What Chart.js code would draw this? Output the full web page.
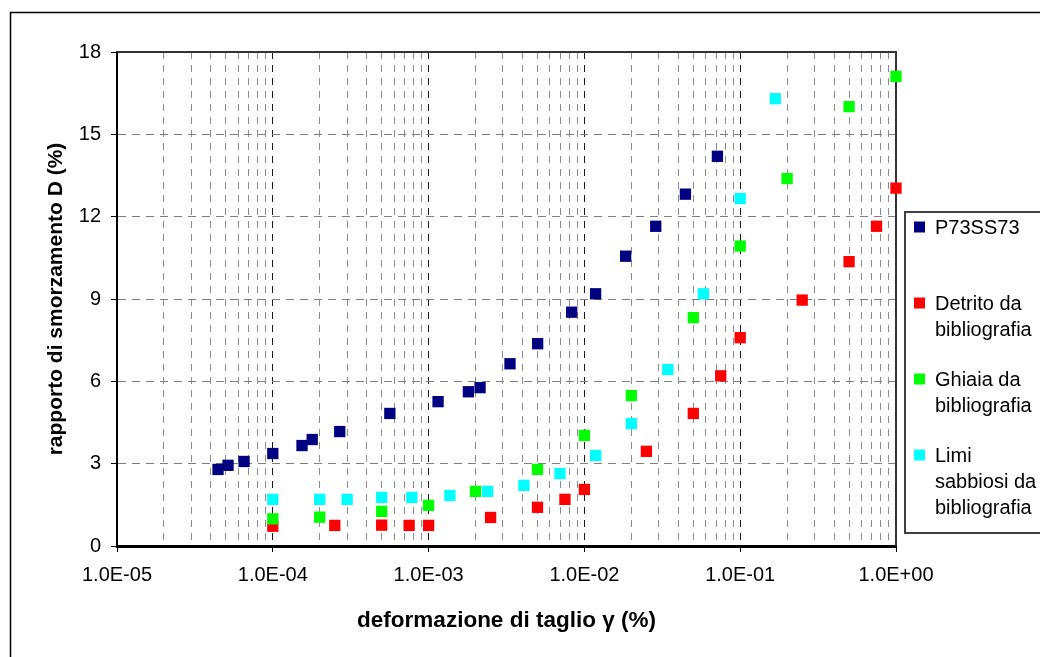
<!DOCTYPE html>
<html>
<head>
<meta charset="utf-8">
<title>rapporto di smorzamento D</title>
<script src="https://cdn.jsdelivr.net/npm/chart.js@4.4.0/dist/chart.umd.min.js"></script>
<style>
  html, body { margin: 0; padding: 0; background: #fff; }
  canvas { display: block; }
</style>
</head>
<body>
<canvas id="chart" width="1040" height="657"></canvas>
<script>
// values: shear strain (%) vs damping ratio D (%)
const p73X = [4.45e-5, 5.16e-5, 6.54e-5, 1.0e-4, 1.54e-4, 1.79e-4, 2.69e-4, 5.64e-4, 1.15e-3, 1.80e-3,
              2.14e-3, 3.33e-3, 5.01e-3, 8.29e-3, 1.18e-2, 1.84e-2, 2.87e-2, 4.45e-2, 7.14e-2];
const p73Y = [2.79, 2.94, 3.08, 3.37, 3.66, 3.88, 4.17, 4.83, 5.26, 5.62,
              5.77, 6.64, 7.37, 8.52, 9.19, 10.56, 11.65, 12.82, 14.20];

const detritoX = [1e-4, 2.5e-4, 5e-4, 7.5e-4, 1e-3, 2.5e-3, 5e-3, 7.5e-3, 1e-2, 2.5e-2, 5e-2, 7.5e-2, 0.1, 0.25, 0.5, 0.75, 1.0];
const detritoY = [0.72, 0.75, 0.76, 0.75, 0.75, 1.04, 1.41, 1.70, 2.06, 3.45, 4.83, 6.20, 7.59, 8.96, 10.36, 11.65, 13.04];

const ghiaiaX = [1e-4, 2e-4, 5e-4, 1e-3, 2e-3, 5e-3, 1e-2, 2e-2, 5e-2, 0.1, 0.2, 0.5, 1.0];
const ghiaiaY = [0.99, 1.05, 1.26, 1.48, 1.99, 2.79, 4.03, 5.48, 8.32, 10.93, 13.39, 16.01, 17.11];

const limiX = [1e-4, 2e-4, 3e-4, 5e-4, 7.8e-4, 1.37e-3, 2.39e-3, 4.09e-3, 6.97e-3, 1.18e-2, 2e-2, 3.43e-2, 5.8e-2, 0.1, 0.168];
const limiY = [1.70, 1.70, 1.70, 1.77, 1.77, 1.84, 1.99, 2.21, 2.64, 3.30, 4.46, 6.43, 9.19, 12.66, 16.30];

const seriesLabels = [['P73SS73'], ['Detrito da', 'bibliografia'], ['Ghiaia da', 'bibliografia'], ['Limi', 'sabbiosi da', 'bibliografia']];
const seriesColors = ['#000080', '#ff0000', '#00ff00', '#00ffff'];

const xDecades = [1e-5, 1e-4, 1e-3, 1e-2, 1e-1, 1];
const xTickLabels = ['1.0E-05', '1.0E-04', '1.0E-03', '1.0E-02', '1.0E-01', '1.0E+00'];
const yTicks = [0, 3, 6, 9, 12, 15, 18];

const FONT = "'Liberation Sans', Arial, sans-serif";

// log grid: 1..9 in every decade
const xGridValues = [];
for (let i = 0; i < xDecades.length - 1; i++) {
    for (let m = 1; m <= 9; m++) xGridValues.push(parseFloat(m + 'e' + Math.round(Math.log10(xDecades[i]))));
}
xGridValues.push(1);

const isDecade = (v) => xDecades.some(d => Math.abs(d - v) < d * 1e-6);

const toPoints = (xs, ys) => xs.map((x, i) => ({ x: x, y: ys[i] }));

const makeSet = (idx, xs, ys, order) => ({
    label: seriesLabels[idx].join(' '),
    data: toPoints(xs, ys),
    backgroundColor: seriesColors[idx],
    borderColor: seriesColors[idx],
    borderWidth: 0,
    pointStyle: 'rect',
    pointRadius: 8,
    showLine: false,
    clip: false,
    order: order
});

// white page + outer frame of the chart object
const framePlugin = {
    id: 'frame',
    beforeDraw(chart) {
        const ctx = chart.ctx;
        ctx.save();
        ctx.fillStyle = '#fff';
        ctx.fillRect(0, 0, chart.width, chart.height);
        ctx.strokeStyle = '#000';
        ctx.lineWidth = 1.5;
        ctx.beginPath();
        ctx.moveTo(10.5, chart.height + 5);
        ctx.lineTo(10.5, 12.5);
        ctx.lineTo(chart.width + 5, 12.5);
        ctx.stroke();
        ctx.restore();
    },
    beforeDatasetsDraw(chart) {
        // top and right edge of the plot area
        const a = chart.chartArea;
        const ctx = chart.ctx;
        ctx.save();
        ctx.strokeStyle = '#333';
        ctx.lineWidth = 2;
        ctx.beginPath();
        ctx.moveTo(a.left, a.top);
        ctx.lineTo(a.right, a.top);
        ctx.lineTo(a.right, a.bottom);
        ctx.stroke();
        ctx.restore();
    }
};

// boxed legend on the right, with wrapped labels
const legendPlugin = {
    id: 'boxLegend',
    afterDraw(chart) {
        const ctx = chart.ctx;
        ctx.save();
        ctx.strokeStyle = '#404040';
        ctx.lineWidth = 2;
        ctx.strokeRect(905, 212, 200, 321);
        ctx.font = '20px ' + FONT;
        ctx.textBaseline = 'middle';
        ctx.fillStyle = '#000';
        chart.data.datasets.forEach((ds, i) => {
            const y0 = 227 + i * 76;
            ctx.fillStyle = ds.backgroundColor;
            ctx.fillRect(914, y0 - 5.5, 11, 11);
            ctx.fillStyle = '#000';
            seriesLabels[i].forEach((line, j) => {
                ctx.fillText(line, 935, y0 + 1 + j * 26);
            });
        });
        ctx.restore();
    }
};

new Chart(document.getElementById('chart'), {
    type: 'scatter',
    data: {
        datasets: [
            makeSet(0, p73X, p73Y, 0),
            makeSet(1, detritoX, detritoY, 3),
            makeSet(2, ghiaiaX, ghiaiaY, 2),
            makeSet(3, limiX, limiY, 1)
        ]
    },
    options: {
        responsive: false,
        animation: false,
        events: [],
        layout: { padding: { left: 0, top: 52, right: 144, bottom: 0 } },
        plugins: {
            legend: { display: false },
            tooltip: { enabled: false }
        },
        scales: {
            x: {
                type: 'logarithmic',
                min: 1e-5,
                max: 1,
                afterBuildTicks: (scale) => {
                    scale.ticks = xGridValues.map(v => ({ value: v }));
                },
                afterFit: (scale) => { scale.height = 111; },
                ticks: {
                    autoSkip: false,
                    maxRotation: 0,
                    padding: 11,
                    color: '#000',
                    font: { family: FONT, size: 20 },
                    callback: (value) => {
                        const i = xDecades.findIndex(d => Math.abs(d - value) < d * 1e-6);
                        return i >= 0 ? xTickLabels[i] : '';
                    }
                },
                grid: {
                    color: (c) => (c.tick && isDecade(c.tick.value)) ? '#1a1a1a' : '#8c8c8c',
                    tickColor: (c) => (c.tick && isDecade(c.tick.value)) ? '#000' : 'rgba(0,0,0,0)',
                    tickLength: 6,
                    lineWidth: 1
                },
                border: { color: '#000', width: 3, dash: [7, 6] },
                title: {
                    display: true,
                    text: 'deformazione di taglio γ (%)',
                    color: '#000',
                    font: { family: FONT, size: 22.5, weight: 'bold' },
                    padding: { top: 0, bottom: 23 }
                }
            },
            y: {
                min: 0,
                max: 18,
                afterBuildTicks: (scale) => {
                    scale.ticks = yTicks.map(v => ({ value: v }));
                },
                afterFit: (scale) => { scale.width = 117; },
                ticks: {
                    padding: 10,
                    color: '#000',
                    font: { family: FONT, size: 20 }
                },
                grid: {
                    color: '#808080',
                    tickColor: '#000',
                    tickLength: 6,
                    lineWidth: 1
                },
                border: { color: '#000', width: 2, dash: [8, 6] },
                title: {
                    display: true,
                    text: 'rapporto di smorzamento D (%)',
                    color: '#000',
                    font: { family: FONT, size: 21, weight: 'bold' },
                    padding: { top: 44, bottom: 0 }
                }
            }
        }
    },
    plugins: [framePlugin, legendPlugin]
});
</script>
</body>
</html>
